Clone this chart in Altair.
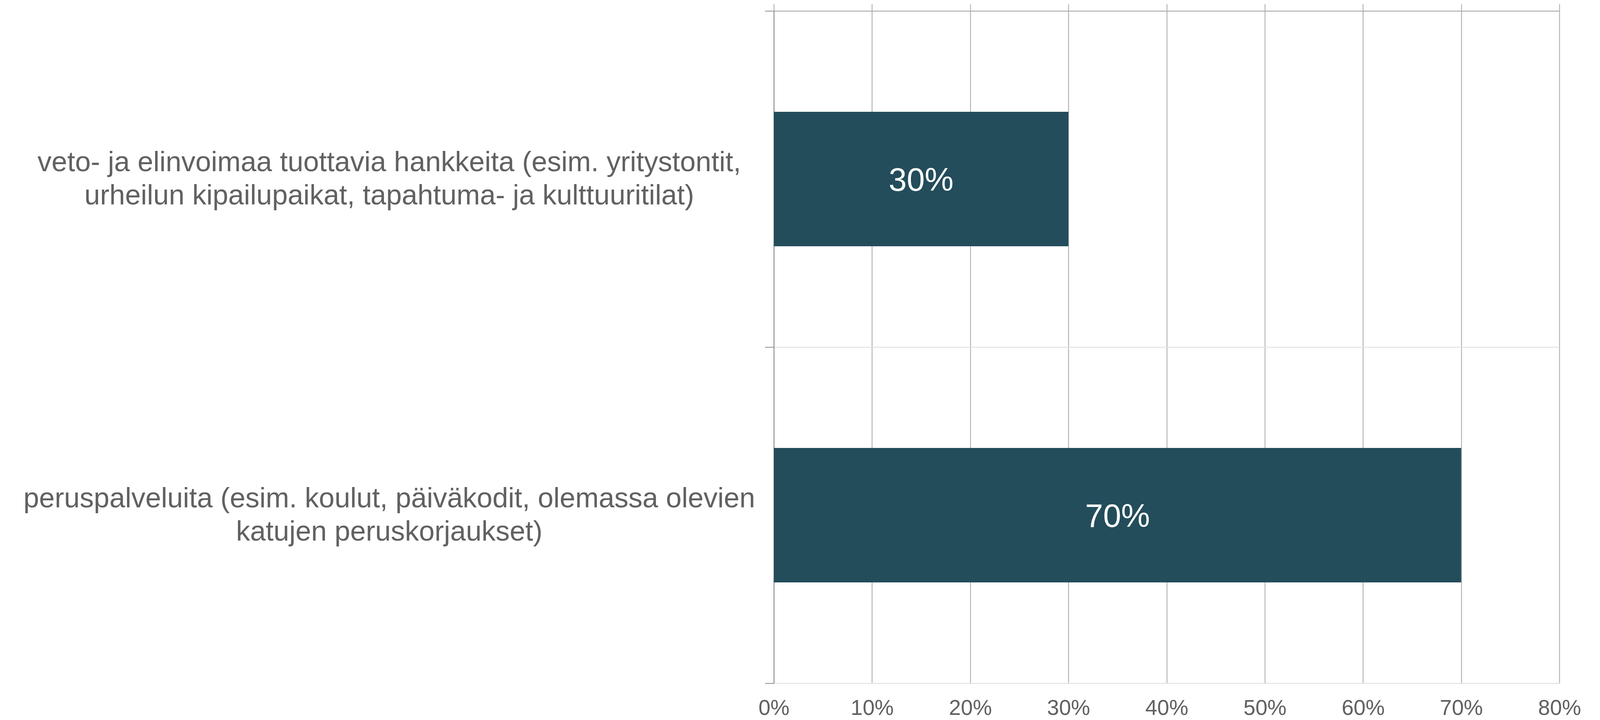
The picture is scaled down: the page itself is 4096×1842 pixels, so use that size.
import altair as alt
import pandas as pd

# ---- data ----
label_lines = [
    ["veto- ja elinvoimaa tuottavia hankkeita (esim. yritystontit,",
     "urheilun kipailupaikat, tapahtuma- ja kulttuuritilat)"],
    ["peruspalveluita (esim. koulut, päiväkodit, olemassa olevien",
     "katujen peruskorjaukset)"],
]
categories = ["|".join(l) for l in label_lines]
values = [0.30, 0.70]
tick_values = [0.0, 0.1, 0.2, 0.3, 0.4, 0.5, 0.6, 0.7, 0.8]

df = pd.DataFrame({"category": categories, "value": values})

FONT = "Liberation Sans"
GRAY = "#616161"
BAR = "#234D5B"

x_scale = alt.Scale(domain=[0, 0.8], nice=False, zero=True)
y_scale = alt.Scale(paddingInner=0, paddingOuter=0)

y_axis = alt.Axis(
    tickBand="extent", grid=True, gridColor="#e3e3e3", gridWidth=2.4,
    domainColor="#8c8c8c", domainWidth=2, tickColor="#8c8c8c", tickWidth=2, tickSize=23,
    labelExpr="split(datum.label, '|')", labelFont=FONT, labelFontSize=72,
    labelColor=GRAY, labelLineHeight=85.5, labelAlign="center", labelBaseline="middle",
    labelOffset=-43, labelPadding=962, labelLimit=0,
)

bars = alt.Chart(df).mark_bar(color=BAR, height=alt.RelativeBandSize(0.4)).encode(
    x=alt.X("value:Q", scale=x_scale, title=None,
            axis=alt.Axis(orient="bottom", values=tick_values, format=".0%", grid=True,
                          gridColor="#a6a6a6", gridWidth=2, domain=False, ticks=False,
                          tickSize=0, labelPadding=37, labelFlush=False, labelFont=FONT,
                          labelFontSize=55, labelColor=GRAY)),
    y=alt.Y("category:N", sort=categories, title=None, scale=y_scale, axis=y_axis),
)

texts = alt.Chart(df).transform_calculate(mid="datum.value / 2").mark_text(
    font=FONT, fontSize=83, color="white", baseline="middle", align="center", dy=5
).encode(
    x=alt.X("mid:Q", scale=x_scale, title=None,
            axis=alt.Axis(orient="top", values=tick_values, labels=False, grid=False,
                          domain=True, domainColor="#a6a6a6", domainWidth=2, ticks=True,
                          tickColor="#a6a6a6", tickWidth=2, tickSize=17.6)),
    y=alt.Y("category:N", sort=categories, title=None, scale=y_scale),
    text=alt.Text("value:Q", format=".0%"),
)

chart = alt.layer(bars, texts).resolve_axis(x="independent").properties(
    width=2011, height=1720,
    autosize=alt.AutoSizeParams(type="none"),
    padding={"left": 1973, "top": 20, "right": 80, "bottom": 94},
).configure_view(stroke=None)

chart.save("out.html", embed_options={"renderer": "svg", "actions": False})
